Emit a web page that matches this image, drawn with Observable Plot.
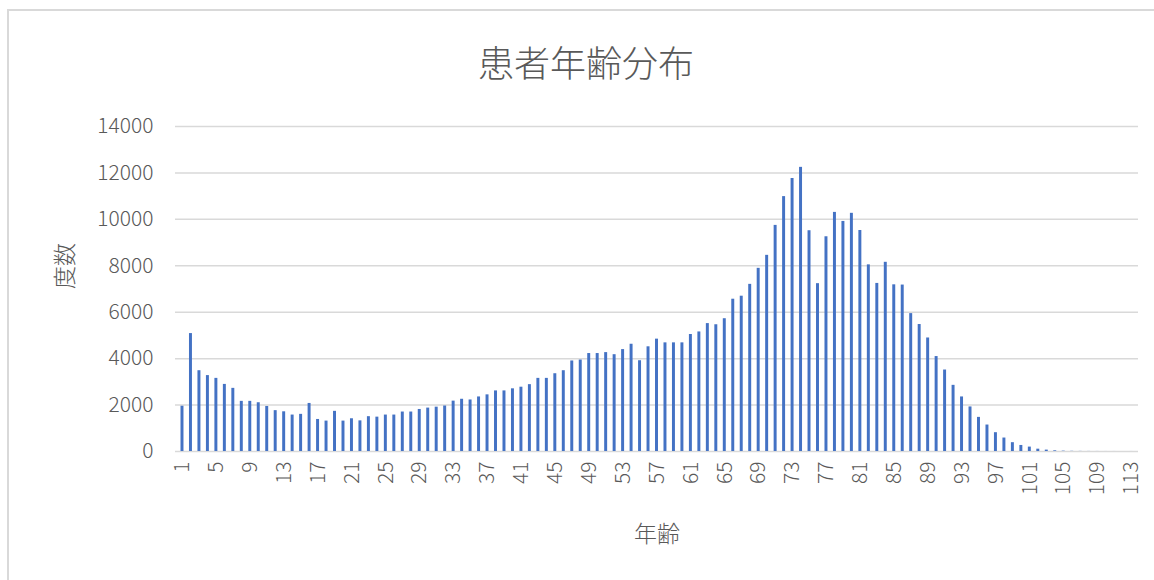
<!DOCTYPE html>
<html>
<head>
<meta charset="utf-8">
<script src="https://cdn.jsdelivr.net/npm/d3@7"></script>
<script src="https://cdn.jsdelivr.net/npm/@observablehq/plot@0.6"></script>
<style>
  html, body { margin: 0; padding: 0; background: #fff; overflow: hidden; }
  body { width: 1154px; height: 580px; position: relative; font-family: "Noto Sans CJK JP", "Noto Sans", sans-serif; }
  #frame { position: absolute; left: 7px; top: 9px; width: 1170px; height: 600px; border: 2px solid #d9d9d9; box-sizing: border-box; }
  #title { position: absolute; left: 0; width: 1172px; top: 36px; text-align: center; font-size: 36px; font-weight: 300; color: #595959; line-height: 50px; }
  #chart { position: absolute; left: 0; top: 100px; }
</style>
</head>
<body>
<div id="frame"></div>
<div id="title">患者年齢分布</div>
<div id="chart"></div>
<script>
const titleText = "患者年齢分布";
const xLabel = "年齢";
const yLabel = "度数";
const ages = d3.range(1, 114);
const counts = [
  1950, 5080, 3480, 3270, 3150, 2890, 2720, 2160, 2160, 2100,
  1940, 1760, 1710, 1570, 1600, 2070, 1380, 1310, 1730, 1310,
  1410, 1320, 1500, 1480, 1570, 1570, 1700, 1700, 1810, 1870,
  1910, 1960, 2170, 2250, 2220, 2350, 2440, 2610, 2610, 2700,
  2770, 2880, 3150, 3150, 3350, 3480, 3900, 3940, 4220, 4220,
  4260, 4170, 4390, 4620, 3910, 4510, 4840, 4680, 4680, 4680,
  5040, 5150, 5510, 5460, 5720, 6560, 6690, 7200, 7890, 8450,
  9740, 10980, 11760, 12240, 9510, 7230, 9250, 10300, 9910, 10260,
  9520, 8040, 7240, 8150, 7180, 7170, 5940, 5470, 4890, 4090,
  3510, 2850, 2350, 1920, 1470, 1140, 810, 580, 380, 260,
  190, 100, 60, 30, 15, 8, 5, 3, 2, 1,
  1, 0, 1
];
const xTicks = d3.range(1, 114, 4);
const yTicks = d3.range(0, 14001, 2000);

const data = ages.map((a, i) => ({age: a, count: counts[i]}));

const chart = Plot.plot({
  width: 1154,
  height: 480,
  marginLeft: 175,
  marginRight: 16,
  marginTop: 26,
  marginBottom: 129,
  style: { fontFamily: '"Noto Sans CJK JP", "Noto Sans", sans-serif', fontSize: "21px", fontWeight: 300, color: "#595959", background: "transparent" },
  x: { type: "band", domain: ages, padding: 0.65, label: null },
  y: { domain: [0, 14000], label: null },
  marks: [
    Plot.gridY(yTicks, { stroke: "#d9d9d9", strokeOpacity: 1, strokeWidth: 1.5 }),
    Plot.barY(data, { x: "age", y: "count", fill: "#4472c4" }),
    Plot.axisY({ ticks: yTicks, tickFormat: d => String(d), tickSize: 0, tickPadding: 22, label: null, fill: "#595959", fontSize: 21 }),
    Plot.axisX({ ticks: xTicks, tickSize: 0, tickPadding: 10, tickRotate: -90, label: null, fill: "#595959", fontSize: 21 }),
    Plot.text([yLabel], { frameAnchor: "left", dx: -110, rotate: -90, fontSize: 23, fill: "#595959" }),
    Plot.text([xLabel], { frameAnchor: "bottom", dy: 90, fontSize: 23, fill: "#595959" })
  ]
});
document.getElementById("chart").appendChild(chart);
</script>
</body>
</html>
